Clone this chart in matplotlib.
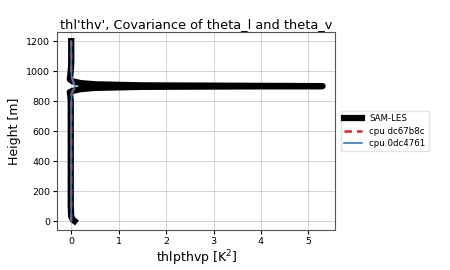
import matplotlib
matplotlib.use("Agg")
import matplotlib.pyplot as plt

# SAM-LES profile
sam_height = [0, 10, 30, 100, 200, 300, 400, 500, 600, 700, 800, 840, 860, 868, 880, 888, 895, 900,
              905, 912, 920, 932, 945, 970, 1000, 1050, 1100, 1200]
sam_value = [0.07, 0.03, 0.0, -0.01, -0.01, -0.01, -0.01, -0.01, -0.01, -0.01, -0.01, -0.02, -0.03, 0.03, 0.2, 0.5, 1.5, 5.3,
             1.5, 0.5, 0.2, 0.03, -0.03, -0.02, -0.01, 0.0, 0.0, 0.0]

# cpu dc67b8c profile
dc_height = [0, 100, 200, 300, 400, 500, 600, 700, 800, 850, 880, 900, 920, 960, 1000, 1100, 1200]
dc_value = [0.0, 0.0, 0.0, 0.0, 0.0, 0.0, 0.0, 0.0, 0.0, 0.01, 0.05, 0.07, 0.05, 0.01, 0.0, 0.0, 0.0]

# cpu 0dc4761 profile
cpu_height = [0, 100, 200, 300, 400, 500, 600, 700, 800, 850, 880, 900, 920, 960, 1000, 1100, 1200]
cpu_value = [0.0, 0.0, 0.0, 0.0, 0.0, 0.0, 0.0, 0.0, 0.0, 0.01, 0.06, 0.08, 0.06, 0.01, 0.0, 0.0, 0.0]

fig = plt.figure(figsize=(4.5, 2.7), dpi=100)
ax = fig.add_axes([0.127, 0.148, 0.618, 0.733])

ax.plot(sam_value, sam_height, color="black", linewidth=4.5, solid_joinstyle="round", label="SAM-LES")
ax.plot(dc_value, dc_height, color="#e8222a", linestyle=(0, (3, 2)), linewidth=1.8, label="cpu dc67b8c")
ax.plot(cpu_value, cpu_height, color="#2f7bbf", linewidth=1.2, label="cpu 0dc4761")

ax.set_title("thl'thv', Covariance of theta_l and theta_v", fontsize=9.3, pad=3)
ax.set_xlabel("thlpthvp [K$^2$]", fontsize=9, labelpad=2)
ax.set_ylabel("Height [m]", fontsize=9, labelpad=4)
ax.set_xticks([0, 1, 2, 3, 4, 5])
ax.set_yticks([0, 200, 400, 600, 800, 1000, 1200])
ax.tick_params(axis="both", labelsize=6.8, length=3, pad=2)
ax.grid(True, color="#cccccc", linewidth=0.6)
for s in ax.spines.values():
    s.set_color("#555555")
    s.set_linewidth(0.8)

ax.legend(loc="center left", bbox_to_anchor=(1.005, 0.5), fontsize=6.2, frameon=True,
          handlelength=2.1, borderpad=0.4, labelspacing=0.4, fancybox=False, edgecolor="#dddddd")

fig.savefig("out.png", dpi=100)
